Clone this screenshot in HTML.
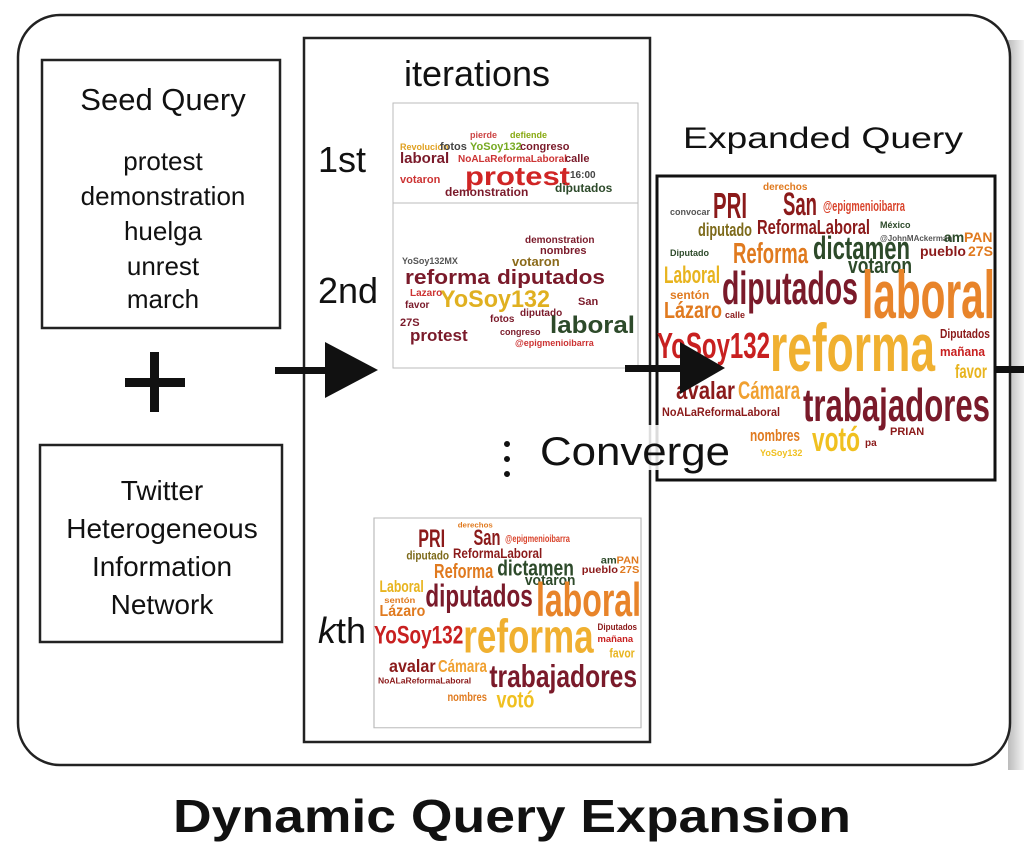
<!DOCTYPE html>
<html><head><meta charset="utf-8"><style>
html,body{margin:0;padding:0;background:#fff;}
svg{display:block;font-family:"Liberation Sans",sans-serif;}
</style></head><body>
<svg width="1024" height="852" viewBox="0 0 1024 852" xmlns="http://www.w3.org/2000/svg">
<defs><linearGradient id="sh" x1="0" x2="1"><stop offset="0" stop-color="#bbb"/><stop offset="1" stop-color="#f4f4f4"/></linearGradient></defs>
<rect x="1008" y="40" width="16" height="730" fill="url(#sh)"/>
<rect x="18" y="15" width="992" height="750" rx="42" fill="#fff" stroke="#222" stroke-width="2.5"/>
<rect x="42" y="60" width="238" height="268" fill="none" stroke="#222" stroke-width="2.5"/>
<g text-anchor="middle" fill="#111">
<text x="163" y="110" font-size="31">Seed Query</text>
<text x="163" y="170" font-size="26">protest</text>
<text x="163" y="205" font-size="26">demonstration</text>
<text x="163" y="240" font-size="26">huelga</text>
<text x="163" y="275" font-size="26">unrest</text>
<text x="163" y="308" font-size="26">march</text>
</g>
<rect x="125" y="378" width="60" height="9" fill="#111"/>
<rect x="150" y="352" width="9" height="60" fill="#111"/>
<rect x="40" y="445" width="242" height="197" fill="none" stroke="#222" stroke-width="2.5"/>
<g text-anchor="middle" fill="#111" font-size="28">
<text x="162" y="500">Twitter</text>
<text x="162" y="538">Heterogeneous</text>
<text x="162" y="576">Information</text>
<text x="162" y="614">Network</text>
</g>
<rect x="304" y="38" width="346" height="704" fill="none" stroke="#222" stroke-width="2.5"/>
<text x="477" y="86" font-size="36" text-anchor="middle" fill="#111">iterations</text>
<text x="318" y="172" font-size="36" fill="#111">1st</text>
<text x="318" y="303" font-size="36" fill="#111">2nd</text>
<text x="318" y="643" font-size="36" fill="#111"><tspan font-style="italic">k</tspan>th</text>
<rect x="393" y="103" width="245" height="107" fill="#fff" stroke="#bbb"/>
<g font-weight="bold">
<text x="470" y="138" font-size="9" fill="#c44">pierde</text>
<text x="510" y="138" font-size="9" fill="#8a1">defiende</text>
<text x="400" y="150" font-size="9" fill="#e0a020">Revolucion</text>
<text x="440" y="150" font-size="11" fill="#444">fotos</text>
<text x="470" y="150" font-size="11" fill="#7a2">YoSoy132</text>
<text x="520" y="150" font-size="11" fill="#7a1a2a">congreso</text>
<text x="400" y="163" font-size="15" fill="#7a1a2a">laboral</text>
<text x="458" y="162" font-size="10" fill="#c33">NoALaReformaLaboral</text>
<text x="565" y="162" font-size="11" fill="#7a1a2a">calle</text>
<text x="465" y="185" font-size="26" fill="#d02525" textLength="105" lengthAdjust="spacingAndGlyphs">protest</text>
<text x="400" y="183" font-size="11" fill="#c33">votaron</text>
<text x="570" y="178" font-size="10" fill="#444">16:00</text>
<text x="445" y="196" font-size="12" fill="#7a1a2a">demonstration</text>
<text x="555" y="192" font-size="12" fill="#2d4a2a">diputados</text>
</g>
<rect x="393" y="203" width="245" height="165" fill="#fff" stroke="#bbb"/>
<g font-weight="bold">
<text x="525" y="243" font-size="10" fill="#7a1a2a">demonstration</text>
<text x="540" y="254" font-size="11" fill="#7a1a2a">nombres</text>
<text x="512" y="266" font-size="13" fill="#8a6a1a">votaron</text>
<text x="402" y="264" font-size="9" fill="#555">YoSoy132MX</text>
<text x="405" y="284" font-size="20" fill="#7a1a2a" textLength="85" lengthAdjust="spacingAndGlyphs">reforma</text>
<text x="497" y="284" font-size="20" fill="#7a1a2a" textLength="108" lengthAdjust="spacingAndGlyphs">diputados</text>
<text x="410" y="296" font-size="10" fill="#c33">Lazaro</text>
<text x="405" y="308" font-size="10" fill="#7a1a2a">favor</text>
<text x="440" y="307" font-size="24" fill="#e0b020" textLength="110" lengthAdjust="spacingAndGlyphs">YoSoy132</text>
<text x="578" y="305" font-size="11" fill="#7a1a2a">San</text>
<text x="400" y="326" font-size="11" fill="#7a1a2a">27S</text>
<text x="490" y="322" font-size="10" fill="#7a1a2a">fotos</text>
<text x="520" y="316" font-size="10" fill="#7a1a2a">diputado</text>
<text x="550" y="333" font-size="24" fill="#2d4a2a" textLength="85" lengthAdjust="spacingAndGlyphs">laboral</text>
<text x="410" y="341" font-size="17" fill="#7a1a2a">protest</text>
<text x="500" y="335" font-size="9" fill="#7a1a2a">congreso</text>
<text x="515" y="346" font-size="9" fill="#c33">@epigmenioibarra</text>
</g>
<rect x="275" y="367" width="60" height="7" fill="#111"/>
<polygon points="325,342 378,370 325,398" fill="#111"/>
<circle cx="507" cy="444" r="3" fill="#111"/><circle cx="507" cy="459" r="3" fill="#111"/><circle cx="507" cy="474" r="3" fill="#111"/>
<text x="683" y="148" font-size="30" fill="#111" textLength="280" lengthAdjust="spacingAndGlyphs">Expanded Query</text>
<rect x="657" y="176" width="338" height="304" fill="#fff" stroke="#111" stroke-width="3"/>
<g font-weight="bold">
<text x="763" y="190" font-size="10" fill="#e07a1f">derechos</text>
<text x="713" y="218" font-size="36" fill="#8b1a1a" textLength="34" lengthAdjust="spacingAndGlyphs">PRI</text>
<text x="783" y="215" font-size="32" fill="#8b1a1a" textLength="34" lengthAdjust="spacingAndGlyphs">San</text>
<text x="823" y="211" font-size="15" fill="#d9432b" textLength="82" lengthAdjust="spacingAndGlyphs">@epigmenioibarra</text>
<text x="670" y="215" font-size="9" fill="#555">convocar</text>
<text x="757" y="234" font-size="20" fill="#8b1a1a" textLength="113" lengthAdjust="spacingAndGlyphs">ReformaLaboral</text>
<text x="698" y="236" font-size="18" fill="#7d6a1a" textLength="54" lengthAdjust="spacingAndGlyphs">diputado</text>
<text x="880" y="228" font-size="9" fill="#2d4a2a">México</text>
<text x="880" y="241" font-size="8" fill="#555">@JohnMAckerman</text>
<text x="944" y="242" font-size="14" fill="#2d4a2a">am</text>
<text x="964" y="242" font-size="14" fill="#e07a1f">PAN</text>
<text x="813" y="259" font-size="32" fill="#2d4a2a" textLength="97" lengthAdjust="spacingAndGlyphs">dictamen</text>
<text x="733" y="263" font-size="29" fill="#e07a1f" textLength="75" lengthAdjust="spacingAndGlyphs">Reforma</text>
<text x="670" y="256" font-size="9" fill="#2d4a2a">Diputado</text>
<text x="920" y="256" font-size="14" fill="#8b1a1a">pueblo</text>
<text x="968" y="256" font-size="14" fill="#e07a1f">27S</text>
<text x="848" y="273" font-size="22" fill="#2d4a2a" textLength="64" lengthAdjust="spacingAndGlyphs">votaron</text>
<text x="664" y="283" font-size="24" fill="#e8b41e" textLength="56" lengthAdjust="spacingAndGlyphs">Laboral</text>
<text x="722" y="304" font-size="46" fill="#7a1a2a" textLength="136" lengthAdjust="spacingAndGlyphs">diputados</text>
<text x="862" y="318" font-size="68" fill="#e8842a" textLength="133" lengthAdjust="spacingAndGlyphs">laboral</text>
<text x="670" y="299" font-size="12" fill="#e07a1f">sentón</text>
<text x="664" y="318" font-size="23" fill="#e07a1f" textLength="58" lengthAdjust="spacingAndGlyphs">Lázaro</text>
<text x="725" y="318" font-size="9" fill="#8b1a1a">calle</text>
<text x="657" y="358" font-size="36" fill="#c82020" textLength="113" lengthAdjust="spacingAndGlyphs">YoSoy132</text>
<text x="770" y="371" font-size="68" fill="#f0b030" textLength="165" lengthAdjust="spacingAndGlyphs">reforma</text>
<text x="940" y="338" font-size="13" fill="#8b1a1a" textLength="50" lengthAdjust="spacingAndGlyphs">Diputados</text>
<text x="940" y="356" font-size="13" fill="#c82020" textLength="45" lengthAdjust="spacingAndGlyphs">mañana</text>
<text x="955" y="378" font-size="19" fill="#e8b41e" textLength="32" lengthAdjust="spacingAndGlyphs">favor</text>
<text x="676" y="399" font-size="25" fill="#8b1a1a" textLength="59" lengthAdjust="spacingAndGlyphs">avalar</text>
<text x="738" y="399" font-size="25" fill="#f0a030" textLength="62" lengthAdjust="spacingAndGlyphs">Cámara</text>
<text x="803" y="421" font-size="46" fill="#7a1a2a" textLength="187" lengthAdjust="spacingAndGlyphs">trabajadores</text>
<text x="662" y="416" font-size="12" fill="#8b1a1a" textLength="118" lengthAdjust="spacingAndGlyphs">NoALaReformaLaboral</text>
<text x="750" y="441" font-size="17" fill="#e07a1f" textLength="50" lengthAdjust="spacingAndGlyphs">nombres</text>
<text x="812" y="451" font-size="34" fill="#f0c020" textLength="48" lengthAdjust="spacingAndGlyphs">votó</text>
<text x="890" y="435" font-size="11" fill="#8b1a1a">PRIAN</text>
<text x="760" y="456" font-size="9" fill="#f0c020">YoSoy132</text>
<text x="865" y="446" font-size="10" fill="#8b1a1a">pa</text>
</g>
<g transform="translate(374,518) scale(0.79,0.69) translate(-657,-176)" font-weight="bold">
<rect x="657" y="176" width="338" height="304" fill="#fff" stroke="#bbb" stroke-width="1.5"/>
<text x="763" y="190" font-size="10" fill="#e07a1f">derechos</text>
<text x="713" y="218" font-size="36" fill="#8b1a1a" textLength="34" lengthAdjust="spacingAndGlyphs">PRI</text>
<text x="783" y="215" font-size="32" fill="#8b1a1a" textLength="34" lengthAdjust="spacingAndGlyphs">San</text>
<text x="823" y="211" font-size="15" fill="#d9432b" textLength="82" lengthAdjust="spacingAndGlyphs">@epigmenioibarra</text>
<text x="757" y="234" font-size="20" fill="#8b1a1a" textLength="113" lengthAdjust="spacingAndGlyphs">ReformaLaboral</text>
<text x="698" y="236" font-size="18" fill="#7d6a1a" textLength="54" lengthAdjust="spacingAndGlyphs">diputado</text>
<text x="944" y="242" font-size="14" fill="#2d4a2a">am</text>
<text x="964" y="242" font-size="14" fill="#e07a1f">PAN</text>
<text x="813" y="259" font-size="32" fill="#2d4a2a" textLength="97" lengthAdjust="spacingAndGlyphs">dictamen</text>
<text x="733" y="263" font-size="29" fill="#e07a1f" textLength="75" lengthAdjust="spacingAndGlyphs">Reforma</text>
<text x="920" y="256" font-size="14" fill="#8b1a1a">pueblo</text>
<text x="968" y="256" font-size="14" fill="#e07a1f">27S</text>
<text x="848" y="273" font-size="22" fill="#2d4a2a" textLength="64" lengthAdjust="spacingAndGlyphs">votaron</text>
<text x="664" y="283" font-size="24" fill="#e8b41e" textLength="56" lengthAdjust="spacingAndGlyphs">Laboral</text>
<text x="722" y="304" font-size="46" fill="#7a1a2a" textLength="136" lengthAdjust="spacingAndGlyphs">diputados</text>
<text x="862" y="318" font-size="68" fill="#e8842a" textLength="133" lengthAdjust="spacingAndGlyphs">laboral</text>
<text x="670" y="299" font-size="12" fill="#e07a1f">sentón</text>
<text x="664" y="318" font-size="23" fill="#e07a1f" textLength="58" lengthAdjust="spacingAndGlyphs">Lázaro</text>
<text x="657" y="358" font-size="36" fill="#c82020" textLength="113" lengthAdjust="spacingAndGlyphs">YoSoy132</text>
<text x="770" y="371" font-size="68" fill="#f0b030" textLength="165" lengthAdjust="spacingAndGlyphs">reforma</text>
<text x="940" y="338" font-size="13" fill="#8b1a1a" textLength="50" lengthAdjust="spacingAndGlyphs">Diputados</text>
<text x="940" y="356" font-size="13" fill="#c82020" textLength="45" lengthAdjust="spacingAndGlyphs">mañana</text>
<text x="955" y="378" font-size="19" fill="#e8b41e" textLength="32" lengthAdjust="spacingAndGlyphs">favor</text>
<text x="676" y="399" font-size="25" fill="#8b1a1a" textLength="59" lengthAdjust="spacingAndGlyphs">avalar</text>
<text x="738" y="399" font-size="25" fill="#f0a030" textLength="62" lengthAdjust="spacingAndGlyphs">Cámara</text>
<text x="803" y="421" font-size="46" fill="#7a1a2a" textLength="187" lengthAdjust="spacingAndGlyphs">trabajadores</text>
<text x="662" y="416" font-size="12" fill="#8b1a1a" textLength="118" lengthAdjust="spacingAndGlyphs">NoALaReformaLaboral</text>
<text x="750" y="441" font-size="17" fill="#e07a1f" textLength="50" lengthAdjust="spacingAndGlyphs">nombres</text>
<text x="812" y="451" font-size="34" fill="#f0c020" textLength="48" lengthAdjust="spacingAndGlyphs">votó</text>
</g>
<rect x="625" y="365" width="70" height="7" fill="#111"/>
<polygon points="680,342 725,368 680,394" fill="#111"/>
<rect x="995" y="366" width="29" height="7" fill="#111"/>
<rect x="535" y="425" width="195" height="45" fill="#fff" opacity="0.85"/>
<text x="540" y="465" font-size="40" fill="#111" textLength="190" lengthAdjust="spacingAndGlyphs">Converge</text>
<text x="512" y="832" font-size="46" font-weight="bold" text-anchor="middle" fill="#111" textLength="678" lengthAdjust="spacingAndGlyphs">Dynamic Query Expansion</text>
</svg>
</body></html>
